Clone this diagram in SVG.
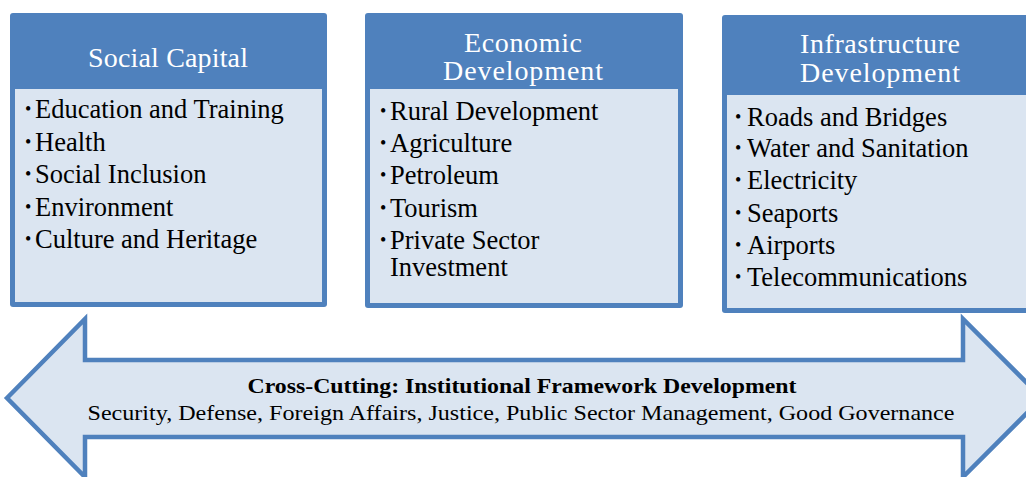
<svg xmlns="http://www.w3.org/2000/svg" width="1026" height="477" viewBox="0 0 1026 477">
<style>
.outer{fill:#4f81bd}
.body{fill:#dbe5f1}
.hd{font-family:"Liberation Serif","Times New Roman",serif;font-size:28px;fill:#ffffff;text-anchor:middle}
.li{font-family:"Liberation Serif","Times New Roman",serif;font-size:26.5px;fill:#000000}
.bul{font-family:"Liberation Serif","Times New Roman",serif;font-size:18px;fill:#000000}
.arrow{fill:#dbe5f1;stroke:#4f81bd;stroke-width:4.5;stroke-linejoin:miter}
.ab{font-family:"Liberation Serif","Times New Roman",serif;font-size:22px;font-weight:bold;fill:#000000;text-anchor:middle}
.ar{font-family:"Liberation Serif","Times New Roman",serif;font-size:22px;fill:#000000;text-anchor:middle}
</style>
<g id="connectors">
<path class="arrow" d="M7,398 L85,319 L85,360 L963,360 L963,319 L1042,398 L963,477 L963,437 L85,437 L85,477 Z"/>
<text class="ab" x="522" y="393" textLength="549" lengthAdjust="spacingAndGlyphs">Cross-Cutting: Institutional Framework Development</text>
<text class="ar" x="521" y="420" textLength="867" lengthAdjust="spacingAndGlyphs">Security, Defense, Foreign Affairs, Justice, Public Sector Management, Good Governance</text>
</g>
<g id="social-capital">
<rect class="outer" x="10" y="13" width="317" height="294" rx="3"/>
<rect class="body" x="15" y="89" width="307" height="213"/>
<text class="hd" x="168" y="67" textLength="160">Social Capital</text>
<g class="bul"><text x="25" y="115">•</text><text x="25" y="148">•</text><text x="25" y="180">•</text><text x="25" y="213">•</text><text x="25" y="245">•</text></g>
<text class="li" x="35" y="118">Education and Training</text>
<text class="li" x="35" y="151">Health</text>
<text class="li" x="35" y="183">Social Inclusion</text>
<text class="li" x="35" y="216">Environment</text>
<text class="li" x="35" y="248">Culture and Heritage</text>
</g>
<g id="economic-development">
<rect class="outer" x="365" y="13" width="318" height="295" rx="3"/>
<rect class="body" x="370" y="89" width="308" height="214"/>
<text class="hd" x="523" y="52" textLength="118">Economic</text>
<text class="hd" x="523" y="80" textLength="160">Development</text>
<g class="bul"><text x="380" y="117">•</text><text x="380" y="149">•</text><text x="380" y="181">•</text><text x="380" y="214">•</text><text x="380" y="246">•</text></g>
<text class="li" x="390" y="120">Rural Development</text>
<text class="li" x="390" y="152">Agriculture</text>
<text class="li" x="390" y="184">Petroleum</text>
<text class="li" x="390" y="217">Tourism</text>
<text class="li" x="390" y="249">Private Sector</text>
<text class="li" x="390" y="276">Investment</text>
</g>
<g id="infrastructure-development">
<rect class="outer" x="722" y="15" width="320" height="298" rx="3"/>
<rect class="body" x="727" y="95" width="310" height="213"/>
<text class="hd" x="880" y="53" textLength="160">Infrastructure</text>
<text class="hd" x="880" y="82" textLength="160">Development</text>
<g class="bul"><text x="735" y="123">•</text><text x="735" y="154">•</text><text x="735" y="186">•</text><text x="735" y="219">•</text><text x="735" y="251">•</text><text x="735" y="283">•</text></g>
<text class="li" x="747" y="126">Roads and Bridges</text>
<text class="li" x="747" y="157">Water and Sanitation</text>
<text class="li" x="747" y="189">Electricity</text>
<text class="li" x="747" y="222">Seaports</text>
<text class="li" x="747" y="254">Airports</text>
<text class="li" x="747" y="286">Telecommunications</text>
</g>
</svg>
